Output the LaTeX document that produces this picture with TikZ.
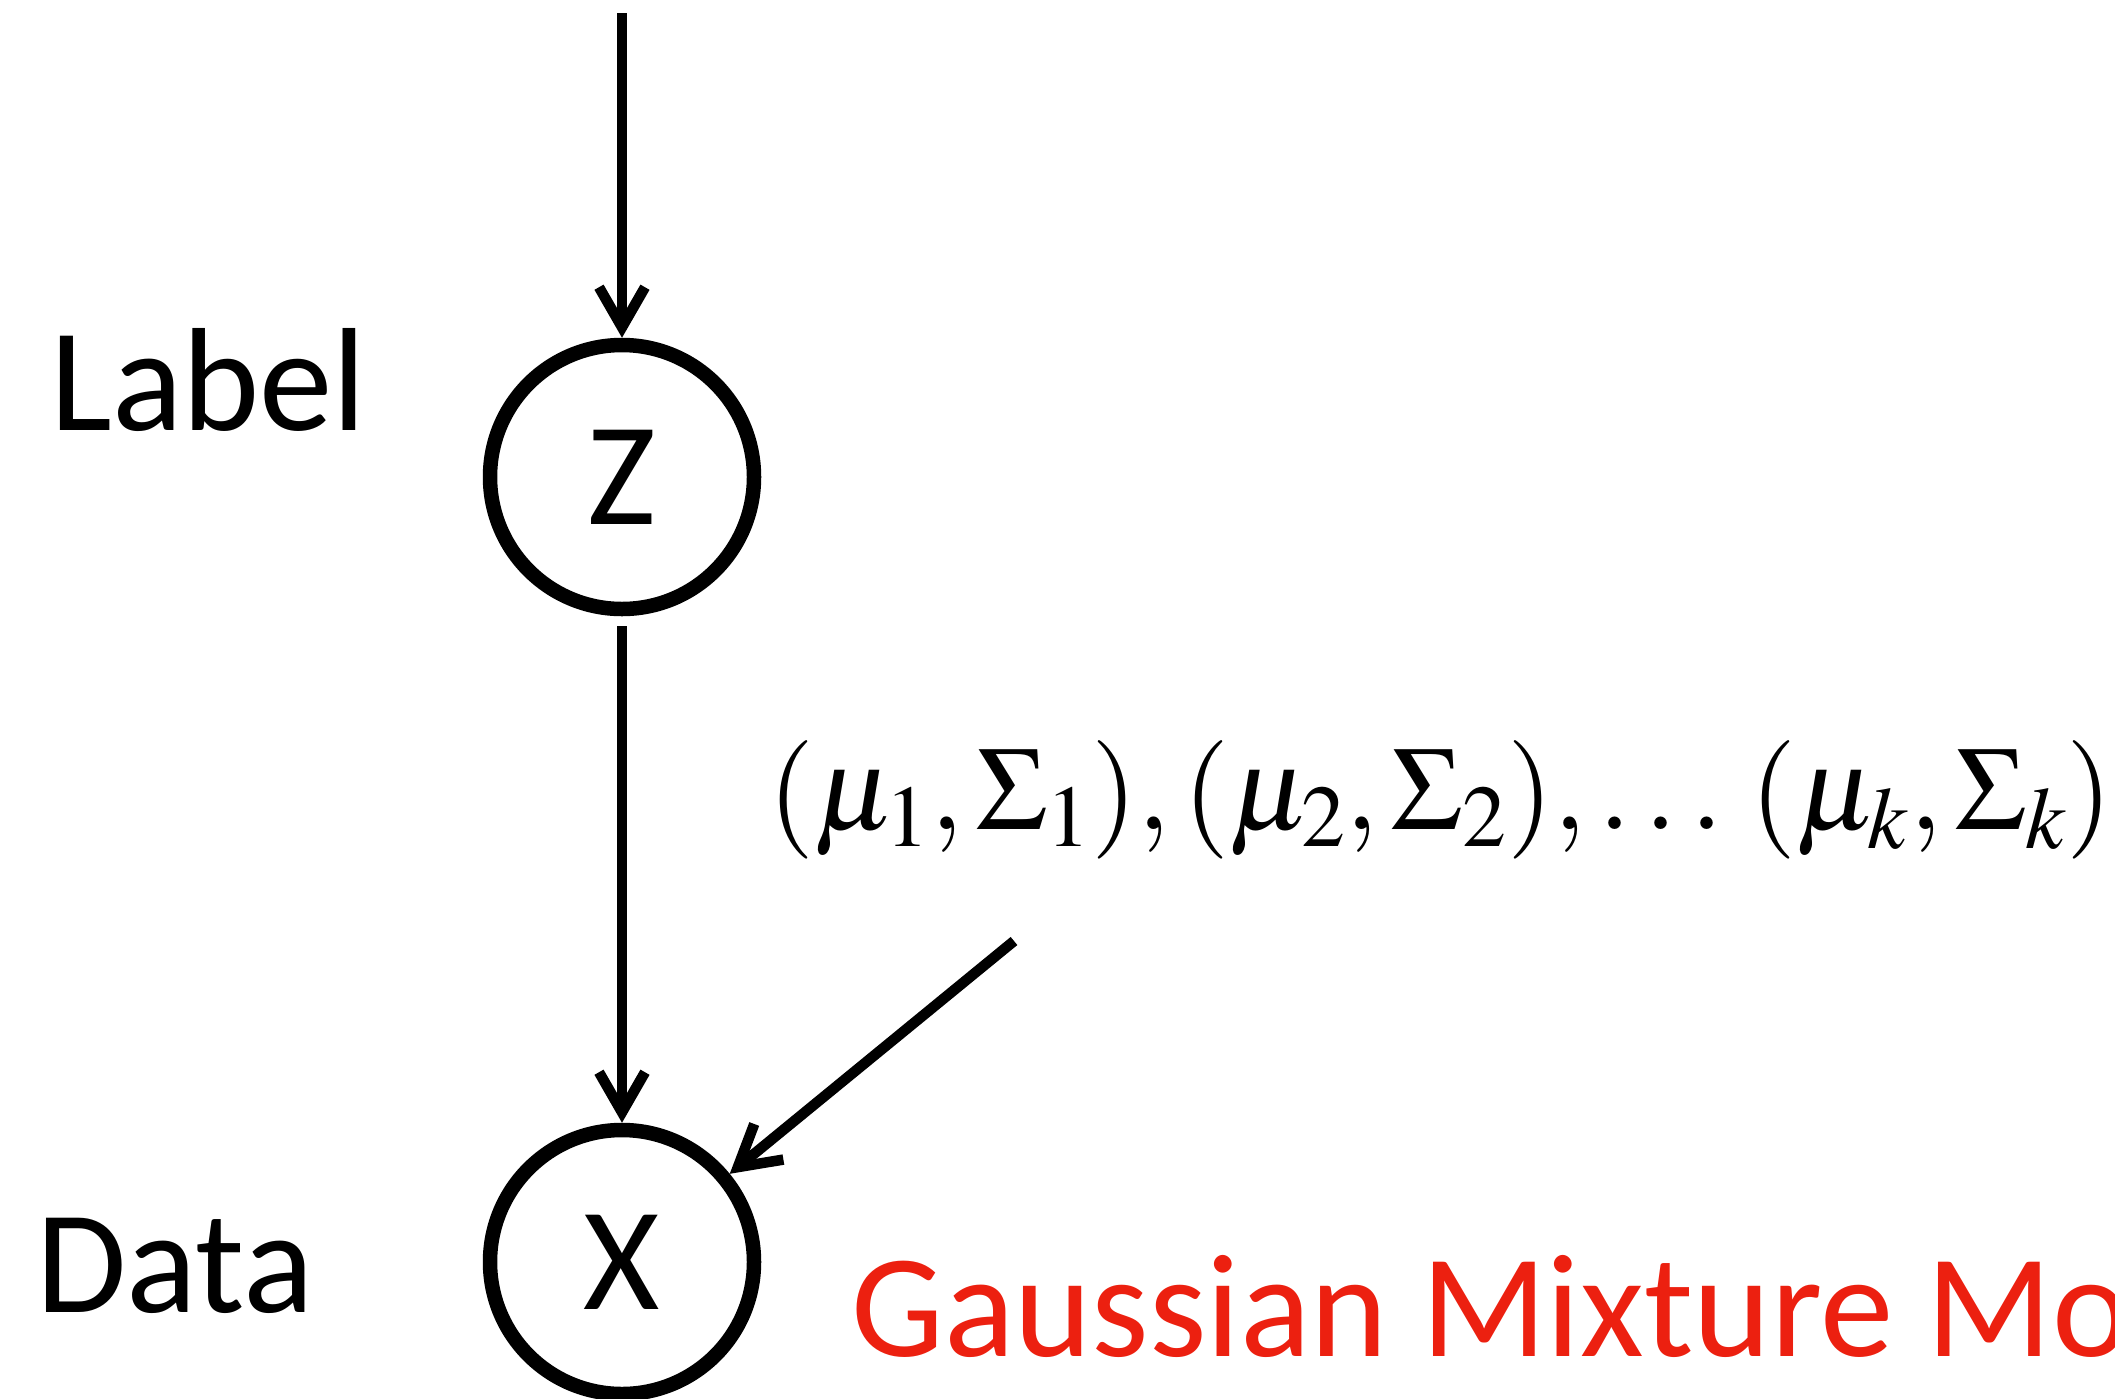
\documentclass[tikz,border=0pt]{standalone}
\usepackage{mathptmx}
\usepackage{fontspec}
\setmainfont{Carlito}
\usetikzlibrary{arrows.meta,positioning}
\definecolor{cTitle}{RGB}{236,32,16}

\begin{document}
\begin{tikzpicture}[x=0.5pt, y=-0.5pt,
  every node/.style={font=\fontsize{73.5}{88}\selectfont},
  var/.style={circle, draw, line width=7.25pt, minimum size=132pt, inner sep=0pt},
  link/.style={-{Straight Barb[length=20pt,width=23pt]}, line width=5.25pt},
  word/.style={anchor=base west, inner sep=0pt}]
\useasboundingbox (0,0) rectangle (2115,1398);
\clip (0,0) rectangle (2115,1398);
% latent label and observed data
\node[var] (z) at (622,477) {Z};
\node[var] (x) at (622,1262) {X};
\node[word] (lab) at (50,430) {Label};
\node[word] (dat) at (36,1312) {Data};
% mixture parameters
\node[word, font=\fontsize{59.3}{68}\selectfont] (par) at (768,829)
  {$(\mu_1,\Sigma_1),(\mu_2,\Sigma_2),\ldots\,(\mu_k,\Sigma_k)$};
\node[word, text=cTitle] (gmm) at (851,1356) {Gaussian Mixture Model};
\coordinate (top) at (622,13);
\coordinate (src) at (1014,941);
% arrows
\draw[link] (top) -- (z);
\draw[link, shorten <=5pt] (z) -- (x);
\draw[link] (src) -- (x);
\end{tikzpicture}
\end{document}
